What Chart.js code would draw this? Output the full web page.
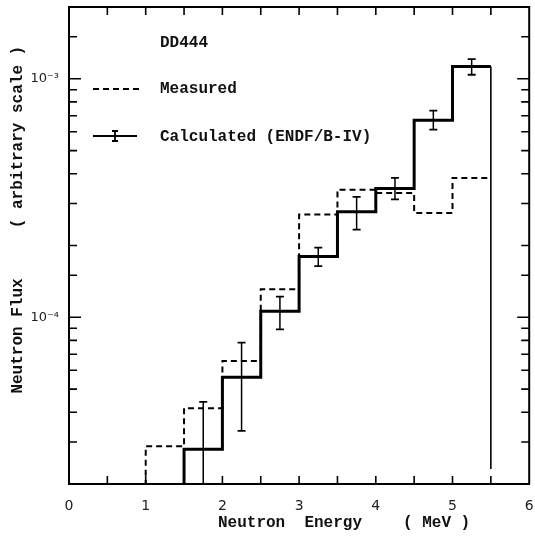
<!DOCTYPE html>
<html>
<head>
<meta charset="utf-8">
<script src="https://cdn.jsdelivr.net/npm/chart.js@4.4.0/dist/chart.umd.min.js"></script>
<style>
  html, body { margin: 0; padding: 0; background: #fff; }
  #wrap { width: 535px; height: 540px; }
</style>
</head>
<body>
<div id="wrap"><canvas id="flux"></canvas></div>
<script>
// bin starts (MeV), each bin is 0.5 MeV wide
const binStarts = [1.0, 1.5, 2.0, 2.5, 3.0, 3.5, 4.0, 4.5, 5.0];
const binWidth = 0.5;
const measured = [2.88e-5, 4.16e-5, 6.56e-5, 1.31e-4, 2.70e-4, 3.43e-4, 3.32e-4, 2.74e-4, 3.84e-4];
const calculated = [null, 2.80e-5, 5.60e-5, 1.06e-4, 1.80e-4, 2.77e-4, 3.47e-4, 6.70e-4, 1.127e-3];
const calcErrLow = [null, 1.0e-5, 3.34e-5, 8.9e-5, 1.64e-4, 2.33e-4, 3.12e-4, 6.12e-4, 1.04e-3];
const calcErrHigh = [null, 4.42e-5, 7.83e-5, 1.22e-4, 1.96e-4, 3.20e-4, 3.84e-4, 7.35e-4, 1.21e-3];
const calcTail = 2.31e-5;
const floorValue = 1e-5; // below the axis, clipped away

const xTickMarks = [0.5, 1, 1.5, 2, 2.5, 3, 3.5, 4, 4.5, 5, 5.5];
const yDecadeLabels = { "-3": "10\u207B\u00B3", "-4": "10\u207B\u2074" };

function stepPoints(values, tail) {
  const pts = [];
  let last = null;
  values.forEach((v, i) => {
    if (v === null) return;
    if (last === null) pts.push({ x: binStarts[i], y: floorValue });
    pts.push({ x: binStarts[i], y: v });
    last = i;
  });
  const end = binStarts[last] + binWidth;
  pts.push({ x: end, y: values[last] });
  if (tail !== undefined) pts.push({ x: end, y: tail });
  return pts;
}

function errorPoints() {
  const pts = [];
  calculated.forEach((v, i) => {
    if (v === null) return;
    const xc = binStarts[i] + binWidth / 2;
    pts.push({ x: xc, y: calcErrLow[i] });
    pts.push({ x: xc, y: calcErrHigh[i] });
    pts.push({ x: xc, y: null });
  });
  return pts;
}

function isDecade(v) {
  const l = Math.log10(v);
  return Math.abs(l - Math.round(l)) < 1e-6;
}

const monoFont = "bold 16px 'Liberation Mono', 'DejaVu Sans Mono', monospace";

const decorations = {
  id: "decorations",
  afterDraw(chart) {
    const { ctx, chartArea: a, scales: { x, y } } = chart;
    ctx.save();
    ctx.strokeStyle = "#000";
    ctx.lineWidth = 2;
    ctx.beginPath();
    ctx.moveTo(a.left, a.top);
    ctx.lineTo(a.right, a.top);
    ctx.lineTo(a.right, a.bottom);
    ctx.stroke();

    // inward ticks
    ctx.lineWidth = 1.6;
    ctx.beginPath();
    xTickMarks.forEach((v) => {
      const px = x.getPixelForValue(v);
      ctx.moveTo(px, a.bottom);
      ctx.lineTo(px, a.bottom - 8);
      ctx.moveTo(px, a.top);
      ctx.lineTo(px, a.top + 8);
    });
    y.ticks.forEach((t) => {
      const py = y.getPixelForValue(t.value);
      if (py <= a.top + 2 || py >= a.bottom - 2) return;
      const len = isDecade(t.value) ? 12 : 8;
      ctx.moveTo(a.left, py);
      ctx.lineTo(a.left + len, py);
      ctx.moveTo(a.right, py);
      ctx.lineTo(a.right - len, py);
    });
    ctx.stroke();

    // legend
    ctx.fillStyle = "#111";
    ctx.font = monoFont;
    ctx.textBaseline = "middle";
    ctx.textAlign = "left";
    ctx.fillText("DD444", 160, 43);
    ctx.fillText("Measured", 160, 89);
    ctx.fillText("Calculated (ENDF/B-IV)", 160, 137);

    ctx.lineWidth = 1.8;
    ctx.setLineDash([6, 4]);
    ctx.beginPath();
    ctx.moveTo(93, 89);
    ctx.lineTo(139, 89);
    ctx.stroke();
    ctx.setLineDash([]);
    ctx.beginPath();
    ctx.moveTo(93, 136);
    ctx.lineTo(137, 136);
    ctx.moveTo(115, 131);
    ctx.lineTo(115, 141);
    ctx.moveTo(112, 131);
    ctx.lineTo(118, 131);
    ctx.moveTo(112, 141);
    ctx.lineTo(118, 141);
    ctx.stroke();

    // axis titles
    ctx.fillText("Neutron  Energy", 218, 523);
    ctx.fillText("( MeV )", 403, 523);
    ctx.translate(18, 0);
    ctx.rotate(-Math.PI / 2);
    ctx.textAlign = "center";
    ctx.fillText("Neutron Flux", -336, 0);
    ctx.fillText("( arbitrary scale )", -137, 0);
    ctx.restore();
  }
};

new Chart(document.getElementById("flux"), {
  type: "line",
  data: {
    datasets: [
      {
        label: "Measured",
        data: stepPoints(measured),
        stepped: true,
        borderColor: "#000",
        borderWidth: 2,
        borderDash: [6, 4],
        pointRadius: 0,
        fill: false
      },
      {
        label: "Calculated (ENDF/B-IV)",
        data: stepPoints(calculated, calcTail),
        stepped: true,
        borderColor: "#000",
        borderWidth: 3,
        pointRadius: 0,
        fill: false,
        segment: {
          borderWidth: (c) => (c.p1DataIndex === c.chart.data.datasets[1].data.length - 1 ? 1.6 : 3)
        }
      },
      {
        label: "errors",
        data: errorPoints(),
        borderColor: "#000",
        borderWidth: 1.5,
        pointStyle: "line",
        pointRadius: 4,
        pointBorderWidth: 1.8,
        pointBorderColor: "#000",
        spanGaps: false,
        fill: false
      }
    ]
  },
  options: {
    responsive: true,
    maintainAspectRatio: false,
    animation: false,
    layout: { padding: { top: 7, right: 3, left: 0, bottom: 0 } },
    plugins: {
      legend: { display: false },
      tooltip: { enabled: false }
    },
    scales: {
      x: {
        type: "linear",
        min: 0,
        max: 6,
        grid: { display: false },
        border: { display: true, color: "#000", width: 2 },
        ticks: {
          stepSize: 1,
          padding: 6,
          color: "#222",
          font: { family: "'DejaVu Sans', sans-serif", size: 14 }
        },
        afterFit(scale) {
          scale.height = 56;
          scale.paddingLeft = 0;
          scale.paddingRight = 0;
        }
      },
      y: {
        type: "logarithmic",
        min: 2e-5,
        max: 2e-3,
        grid: { display: false },
        border: { display: true, color: "#000", width: 2 },
        ticks: {
          autoSkip: false,
          padding: 2,
          color: "#222",
          font: { family: "'DejaVu Sans', sans-serif", size: 13 },
          callback: (v) => {
            if (!isDecade(v)) return "";
            return yDecadeLabels[String(Math.round(Math.log10(v)))] || "";
          }
        },
        afterFit(scale) {
          scale.width = 69;
          scale.paddingTop = 0;
          scale.paddingBottom = 0;
        }
      }
    }
  },
  plugins: [decorations]
});
</script>
</body>
</html>
